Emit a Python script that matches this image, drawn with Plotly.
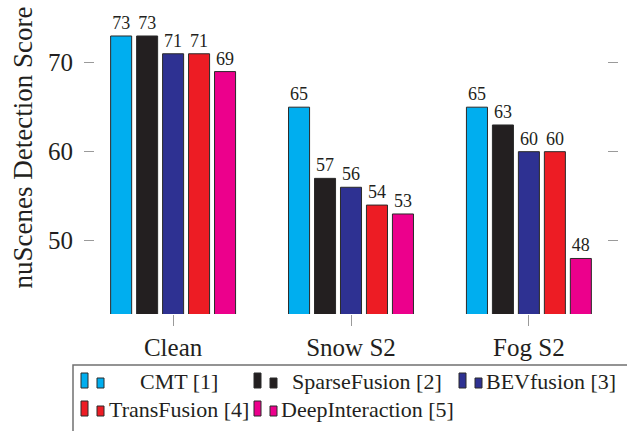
import plotly.graph_objects as go

# Benchmark conditions and per-method nuScenes Detection Scores
conditions = ["Clean", "Snow S2", "Fog S2"]
methods = ["CMT [1]", "SparseFusion [2]", "BEVfusion [3]", "TransFusion [4]", "DeepInteraction [5]"]
cmt = [73, 65, 65]
sparsefusion = [73, 57, 63]
bevfusion = [71, 56, 60]
transfusion = [71, 54, 60]
deepinteraction = [69, 53, 48]
colors = ["#00AEEF", "#231F20", "#2E3192", "#ED1C24", "#EC008C"]
y_ticks = [50, 60, 70]

series = [cmt, sparsefusion, bevfusion, transfusion, deepinteraction]

W, H = 627, 431
ML, MR, MT, MB = 95, 20, 10, 117
SERIF = "Liberation Serif"
INK = "#231F20"
TICK = "#9a9a9a"

fig = go.Figure()
for name, vals, col in zip(methods, series, colors):
    fig.add_trace(go.Bar(
        x=conditions, y=vals, name=name,
        marker=dict(color=col, line=dict(color="#2a2a2a", width=1)),
        text=[str(v) for v in vals], textposition="outside",
        textfont=dict(family=SERIF, size=18, color=INK),
        cliponaxis=False, showlegend=False,
    ))

fig.update_layout(
    width=W, height=H,
    margin=dict(l=ML, r=MR, t=MT, b=MB),
    paper_bgcolor="white", plot_bgcolor="white",
    barmode="group", bargap=0.27, bargroupgap=0.19,
    font=dict(family=SERIF, color=INK),
    xaxis=dict(
        range=[-0.439, 2.439], showgrid=False, showline=False, zeroline=False,
        ticks="outside", ticklen=11, tickwidth=1.2, tickcolor=TICK,
        tickfont=dict(family=SERIF, size=25, color=INK),
    ),
    yaxis=dict(
        range=[41.76, 75.92], tickvals=y_ticks, showgrid=False, showline=False,
        zeroline=False, ticks="outside", ticklen=10, tickwidth=1.2, tickcolor=TICK,
        mirror="ticks", ticklabelstandoff=6,
        tickfont=dict(family=SERIF, size=25, color=INK),
    ),
)

pw, ph = W - ML - MR, H - MT - MB


def px_x(x):
    return (x - ML) / pw


def px_y(y):
    return (H - MB - y) / ph


# Rotated y-axis title
fig.add_annotation(
    text="nuScenes Detection Score", textangle=-90,
    xref="paper", yref="paper", x=px_x(22), y=px_y(147.5),
    xanchor="center", yanchor="middle", showarrow=False,
    font=dict(family=SERIF, size=27, color=INK),
)

# Legend box, two-bar swatches and centred entry labels
shapes = [dict(
    type="rect", xref="paper", yref="paper",
    x0=px_x(73), x1=px_x(W + 10), y0=px_y(H + 10), y1=px_y(365),
    line=dict(color="#707070", width=1.5), fillcolor="rgba(0,0,0,0)",
)]

icon_x = [81, 254, 459]
text_cx = [179, 367, 551]
rows = [(388, 381), (416, 409)]
for i, (name, col) in enumerate(zip(methods, colors)):
    r, c = divmod(i, 3)
    bottom, ty = rows[r]
    x0 = icon_x[c]
    for dx, h in ((0, 15), (16, 10)):
        shapes.append(dict(
            type="rect", xref="paper", yref="paper",
            x0=px_x(x0 + dx), x1=px_x(x0 + dx + 7),
            y0=px_y(bottom), y1=px_y(bottom - h),
            line=dict(color="#2a2a2a", width=1), fillcolor=col,
        ))
    fig.add_annotation(
        text=name, xref="paper", yref="paper",
        x=px_x(text_cx[c]), y=px_y(ty), xanchor="center", yanchor="middle",
        showarrow=False, font=dict(family=SERIF, size=22, color=INK),
    )

fig.update_layout(shapes=shapes)

fig.write_html("out.html")
